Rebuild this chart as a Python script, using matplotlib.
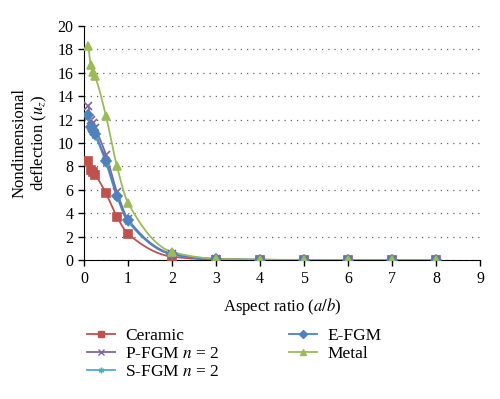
import numpy as np
import matplotlib
matplotlib.use('Agg')
import matplotlib.pyplot as plt

plt.rcParams['font.family'] = 'Liberation Serif'
plt.rcParams['mathtext.fontset'] = 'stix'

ratio = [0.1, 0.15, 0.2, 0.25, 0.5, 0.75, 1, 2, 3, 4, 5, 6, 7, 8]
ceramic = [8.5, 7.7, 7.5, 7.3, 5.7, 3.7, 2.25, 0.3, 0.05, 0.02, 0.01, 0.01, 0.01, 0.01]
p_fgm = [13.2, 12.0, 11.7, 11.3, 9.0, 5.8, 3.5, 0.55, 0.1, 0.03, 0.01, 0.01, 0.01, 0.01]
s_fgm = [12.2, 11.1, 10.9, 10.6, 8.3, 5.4, 3.3, 0.5, 0.09, 0.03, 0.01, 0.01, 0.01, 0.01]
e_fgm = [12.4, 11.4, 11.1, 10.8, 8.5, 5.5, 3.4, 0.5, 0.09, 0.03, 0.01, 0.01, 0.01, 0.01]
metal = [18.3, 16.7, 16.1, 15.7, 12.3, 8.0, 4.9, 0.7, 0.12, 0.04, 0.02, 0.01, 0.01, 0.01]

series = [
    ('Ceramic', ceramic, '#C0504D', 's'),
    ('P-FGM $n$ = 2', p_fgm, '#8064A2', 'x'),
    ('S-FGM $n$ = 2', s_fgm, '#4BACC6', (6, 2, 0)),
    ('E-FGM', e_fgm, '#4F81BD', 'D'),
    ('Metal', metal, '#9BBB59', '^'),
]


def smooth(x, y, n=25):
    # monotone cubic (fritsch-carlson) so the curve has no overshoot
    x = np.asarray(x, float)
    y = np.asarray(y, float)
    h = np.diff(x)
    d = np.diff(y) / h
    m = np.zeros_like(y)
    m[0], m[-1] = d[0], d[-1]
    for i in range(1, len(x) - 1):
        if d[i-1] * d[i] > 0:
            w1 = 2*h[i] + h[i-1]
            w2 = h[i] + 2*h[i-1]
            m[i] = (w1 + w2) / (w1/d[i-1] + w2/d[i])
    xs, ys = [], []
    t = np.linspace(0, 1, n)
    for i in range(len(x) - 1):
        h00 = 2*t**3 - 3*t**2 + 1
        h10 = t**3 - 2*t**2 + t
        h01 = -2*t**3 + 3*t**2
        h11 = t**3 - t**2
        xs.extend(x[i] + t*h[i])
        ys.extend(h00*y[i] + h10*h[i]*m[i] + h01*y[i+1] + h11*h[i]*m[i+1])
    return np.array(xs), np.array(ys)


fig = plt.figure(figsize=(5, 3.99), dpi=100)
ax = fig.add_axes([0.168, 0.348, 0.792, 0.587])

for label, vals, col, mk in series:
    sx, sy = smooth(ratio, vals)
    ax.plot(sx, sy, color=col, lw=1.3, zorder=2)
    ax.plot(ratio, vals, ls='none', marker=mk, color=col, ms=5.5,
            mew=1.2, zorder=3)
    ax.plot([], [], color=col, lw=1.3, marker=mk, ms=4, mew=1, label=label)

ax.set_xlim(0, 9)
ax.set_ylim(0, 20)
ax.set_xticks(range(0, 10))
ax.set_yticks(range(0, 21, 2))
ax.yaxis.grid(True, ls=(0, (1, 4)), color='#666666', lw=0.9)
ax.set_axisbelow(True)
for s in ['top', 'right']:
    ax.spines[s].set_visible(False)
ax.tick_params(labelsize=11.5, length=4, width=1)
ax.set_xlabel('Aspect ratio ($a/b$)', fontsize=12, labelpad=7)
ax.set_ylabel('Nondimensional\ndeflection ($u_z$)', fontsize=12,
              labelpad=6)

fig.legend(loc='upper left', bbox_to_anchor=(0.16, 0.195), ncol=2,
           frameon=False, fontsize=12.5, columnspacing=4.0,
           handlelength=1.6, handletextpad=0.6, labelspacing=0.1,
           borderaxespad=0)

fig.savefig('out.png', dpi=100)
